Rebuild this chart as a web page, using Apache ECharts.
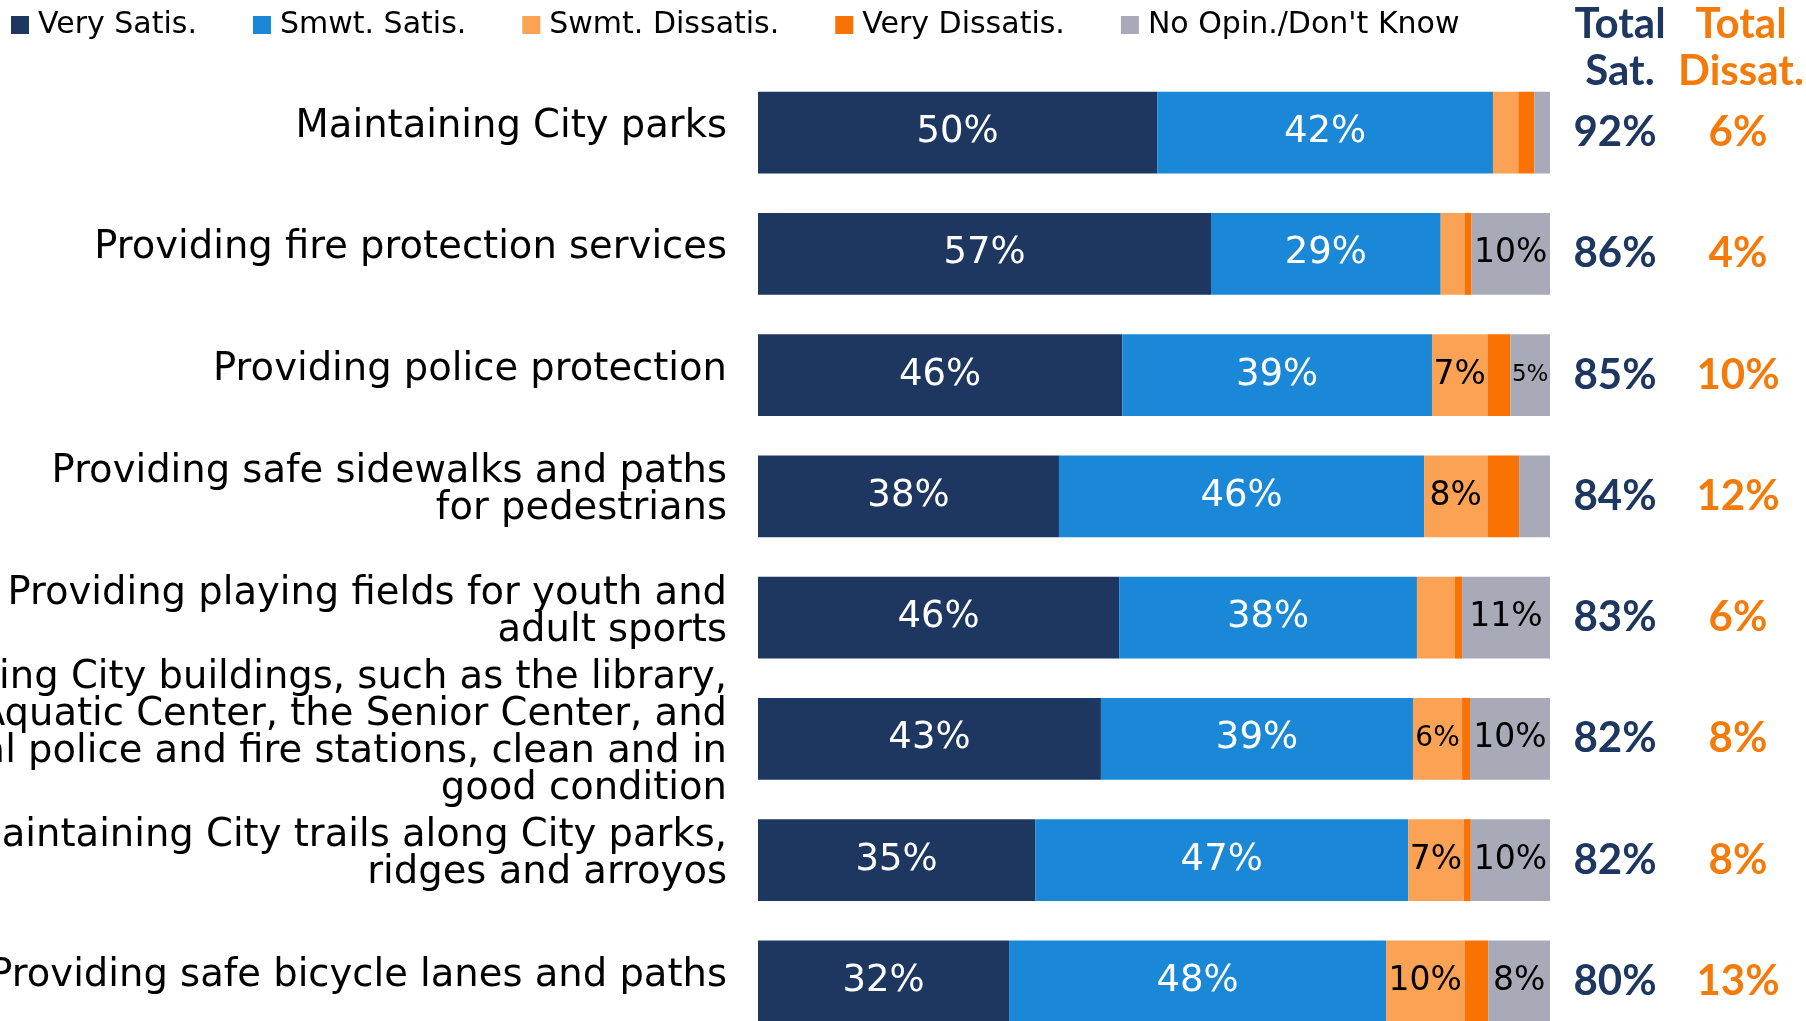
<!DOCTYPE html>
<html>
<head>
<meta charset="utf-8">
<script src="https://cdn.jsdelivr.net/npm/echarts@6/dist/echarts.min.js"></script>
<style>
html,body{margin:0;padding:0;background:#fff;}
#chart{width:1806px;height:1021px;}
</style>
</head>
<body>
<div id="chart"></div>
<script>
var categories = [
  'Maintaining City parks',
  'Providing fire protection services',
  'Providing police protection',
  'Providing safe sidewalks and paths\nfor pedestrians',
  'Providing playing fields for youth and\nadult sports',
  'Keeping City buildings, such as the library,\nthe Aquatic Center, the Senior Center, and\nlocal police and fire stations, clean and in\ngood condition',
  'Maintaining City trails along City parks,\nridges and arroyos',
  'Providing safe bicycle lanes and paths'
];
var seriesNames = ['Very Satis.', 'Smwt. Satis.', 'Swmt. Dissatis.', 'Very Dissatis.', "No Opin./Don't Know"];
var verySatis    = [50.4, 57.2, 46.0, 38.0, 45.6, 43.3, 35.0, 31.7];
var smwtSatis    = [42.4, 29.0, 39.1, 46.1, 37.6, 39.4, 47.1, 47.6];
var swmtDissatis = [3.2, 3.0, 7.0, 8.0, 4.8, 6.2, 7.0, 9.9];
var veryDissatis = [2.0, 0.9, 2.9, 4.0, 0.9, 1.0, 0.9, 3.0];
var noOpinion    = [2.0, 9.9, 5.0, 3.9, 11.1, 10.1, 10.0, 7.8];
var totalSat     = [92, 86, 85, 84, 83, 82, 82, 80];
var totalDissat  = [6, 4, 10, 12, 6, 8, 8, 13];

var colors = ['#1D3761', '#1A88D6', '#FCA254', '#F87304', '#A9AAB7'];
var labelColors = ['#ffffff', '#ffffff', '#000000', '#000000', '#000000'];
var labelSizes = [37, 37, 33, 33, 33];
var FONT = 'DejaVu Sans';

function segLabel(p) {
  var r = Math.round(p.value);
  if (p.value < 5) return '';
  if (r <= 5) return '{s|' + r + '%}';
  if (r <= 6) return '{m|' + r + '%}';
  return '{n|' + r + '%}';
}

var seriesData = [verySatis, smwtSatis, swmtDissatis, veryDissatis, noOpinion];
var series = seriesData.map(function (d, i) {
  var c = labelColors[i];
  return {
    name: seriesNames[i],
    type: 'bar',
    stack: 'all',
    data: d,
    barCategoryGap: '32.4%',
    itemStyle: { color: colors[i] },
    label: {
      show: true,
      position: 'inside',
      formatter: segLabel,
      rich: {
        n: { fontFamily: FONT, fontSize: labelSizes[i], color: c },
        m: { fontFamily: FONT, fontSize: 28, color: c },
        s: { fontFamily: FONT, fontSize: 23, color: c }
      }
    }
  };
});

var chart = echarts.init(document.getElementById('chart'), null, { renderer: 'canvas' });
chart.setOption({
  animation: false,
  color: colors,
  legend: {
    left: 6,
    top: 5,
    itemWidth: 18,
    itemHeight: 18,
    itemGap: 56,
    icon: 'rect',
    data: seriesNames,
    textStyle: { fontFamily: FONT, fontSize: 30, color: '#000', padding: [0, 0, 0, 4] }
  },
  title: [
    { text: 'Total\nSat.', left: 1615, top: -4, textAlign: 'center',
      textStyle: { fontFamily: 'Lato', fontWeight: 'bold', fontSize: 42, lineHeight: 47, color: '#1D3761' } },
    { text: 'Total\nDissat.', left: 1736, top: -4, textAlign: 'center',
      textStyle: { fontFamily: 'Lato', fontWeight: 'bold', fontSize: 42, lineHeight: 47, color: '#F47A0A' } }
  ],
  grid: { left: 758, top: 72, width: 792, height: 970, containLabel: false, outerBoundsMode: 'none' },
  xAxis: { type: 'value', min: 0, max: 100, show: false },
  yAxis: [
    {
      type: 'category',
      inverse: true,
      data: categories,
      axisLine: { show: false },
      axisTick: { show: false },
      axisLabel: {
        margin: 31,
        align: 'right',
        formatter: function (v) {
          return v.split('\n').map(function (l) { return '{t|' + l + '}'; }).join('\n') + '\n{p| }';
        },
        rich: {
          t: { fontFamily: FONT, fontSize: 38.5, lineHeight: 37, color: '#000', align: 'right' },
          p: { fontFamily: FONT, fontSize: 1, lineHeight: 11, align: 'right' }
        }
      }
    },
    {
      type: 'category',
      inverse: true,
      position: 'right',
      data: categories,
      axisLine: { show: false },
      axisTick: { show: false },
      axisLabel: {
        margin: 4,
        align: 'left',
        formatter: function (v, i) {
          return '{s|' + totalSat[i] + '%}{d|' + totalDissat[i] + '%}';
        },
        rich: {
          s: { width: 122, align: 'center', fontFamily: 'Lato', fontWeight: 'bold', fontSize: 42, color: '#1D3761' },
          d: { width: 124, align: 'center', fontFamily: 'Lato', fontWeight: 'bold', fontSize: 42, color: '#F47A0A' }
        }
      }
    }
  ],
  series: series
});
</script>
</body>
</html>
